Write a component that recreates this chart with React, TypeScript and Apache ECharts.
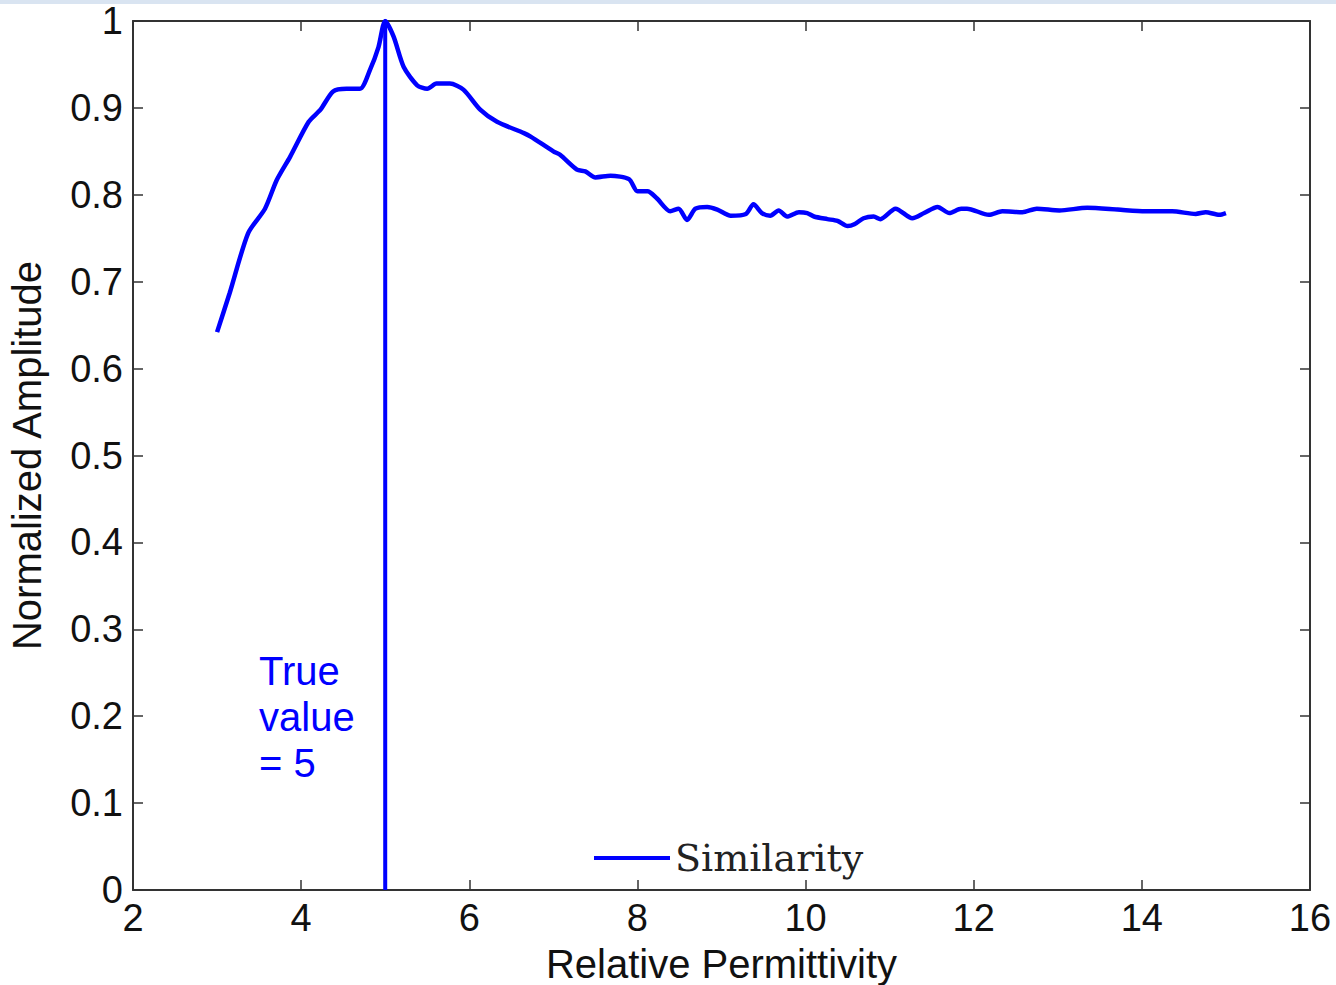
import React, { useEffect, useRef } from "react";
import * as echarts from "echarts";

const permittivity = [
  3.0, 3.15, 3.37, 3.57, 3.71, 3.87, 4.09, 4.23, 4.38, 4.54, 4.7, 4.82, 4.92, 5.0,
  5.1, 5.22, 5.38, 5.5, 5.61, 5.77, 5.93, 6.13, 6.33, 6.65, 6.73, 7.0, 7.08, 7.28,
  7.38, 7.5, 7.68, 7.9, 8.0, 8.12, 8.23, 8.39, 8.49, 8.59, 8.69, 8.83, 8.95, 9.11,
  9.29, 9.38, 9.48, 9.58, 9.68, 9.78, 9.92, 10.02, 10.1, 10.26, 10.38, 10.5, 10.58,
  10.69, 10.81, 10.89, 11.07, 11.27, 11.41, 11.57, 11.71, 11.85, 11.92, 12.18, 12.34,
  12.58, 12.75, 13.02, 13.35, 13.71, 14.04, 14.36, 14.64, 14.76, 14.92, 15.0,
];
const similarity = [
  0.642, 0.687, 0.756, 0.784, 0.817, 0.844, 0.884, 0.898, 0.919, 0.922, 0.922, 0.944, 0.97, 1.0,
  0.982, 0.947, 0.926, 0.922, 0.928, 0.928, 0.921, 0.898, 0.884, 0.871, 0.867, 0.85, 0.846, 0.829,
  0.827, 0.82, 0.822, 0.818, 0.804, 0.804, 0.796, 0.781, 0.784, 0.771, 0.784, 0.786, 0.783, 0.776,
  0.778, 0.789, 0.779, 0.776, 0.782, 0.775, 0.78, 0.779, 0.775, 0.772, 0.77, 0.764, 0.766,
  0.773, 0.775, 0.772, 0.784, 0.773, 0.779, 0.786, 0.779, 0.784, 0.784, 0.777, 0.781,
  0.78, 0.784, 0.782, 0.785, 0.783, 0.781, 0.781, 0.778, 0.78, 0.777, 0.779,
];
const trueValue = 5;
const trueLineY = [0, 1];
const xTicks = { min: 2, max: 16, interval: 2 };
const yTicks = { min: 0, max: 1, interval: 0.1 };
const annotationLines = ["True", "value", "= 5"];

const BLUE = "#0000ff";
const AXIS = "#333333";
const SANS = "'Liberation Sans', Arial, sans-serif";

export default function App() {
  const ref = useRef<HTMLDivElement>(null);
  useEffect(() => {
    if (!ref.current) return;
    const chart = echarts.init(ref.current, null, { renderer: "svg" });
    const axisCommon = {
      axisLine: { show: true, onZero: false, lineStyle: { color: AXIS, width: 2 } },
      axisTick: { show: true, inside: true, length: 10, lineStyle: { color: AXIS, width: 1.5 } },
      splitLine: { show: false },
    };
    chart.setOption({
      animation: false,
      backgroundColor: "#ffffff",
      grid: { left: 133, top: 21, right: 26, bottom: 95, containLabel: false, outerBoundsMode: "none" },
      xAxis: [
        {
          type: "value",
          ...xTicks,
          ...axisCommon,
          position: "bottom",
          name: "Relative Permittivity",
          nameLocation: "middle",
          nameGap: 44,
          nameTextStyle: { fontFamily: SANS, fontSize: 40, color: "#111", lineHeight: 44 },
          axisLabel: { fontFamily: SANS, fontSize: 38, color: "#111", margin: 9 },
        },
        {
          type: "value",
          ...xTicks,
          ...axisCommon,
          position: "top",
          axisLabel: { show: false },
        },
      ],
      yAxis: [
        {
          type: "value",
          ...yTicks,
          ...axisCommon,
          position: "left",
          name: "Normalized Amplitude",
          nameLocation: "middle",
          nameGap: 86,
          nameTextStyle: { fontFamily: SANS, fontSize: 40, color: "#111" },
          axisLabel: {
            fontFamily: SANS,
            fontSize: 38,
            color: "#111",
            margin: 10,
            formatter: (v: number) => (Math.round(v * 10) / 10).toString(),
          },
        },
        {
          type: "value",
          ...yTicks,
          ...axisCommon,
          position: "right",
          axisLabel: { show: false },
        },
      ],
      legend: {
        data: [{ name: "Similarity", icon: "rect" }],
        left: 589,
        top: 834,
        itemWidth: 76,
        itemHeight: 4,
        itemGap: 8,
        textStyle: { fontFamily: "'DejaVu Serif', serif", fontSize: 38, color: "#222" },
      },
      graphic: [
        {
          type: "rect",
          shape: { x: 0, y: 0, width: 1336, height: 4 },
          style: { fill: "#d9e4f1" },
          silent: true,
        },
        {
          type: "text",
          left: 259,
          top: 648,
          style: {
            text: annotationLines.join("\n"),
            fill: BLUE,
            font: `40px ${SANS}`,
            lineHeight: 46,
          },
        },
      ],
      series: [
        {
          name: "Similarity",
          type: "line",
          data: permittivity.map((x, i) => [x, similarity[i]]),
          showSymbol: false,
          symbol: "none",
          smooth: 0.25,
          lineStyle: { color: BLUE, width: 4.5 },
          itemStyle: { color: BLUE },
          z: 3,
        },
        {
          name: "True value",
          type: "line",
          data: trueLineY.map((y) => [trueValue, y]),
          showSymbol: false,
          symbol: "none",
          lineStyle: { color: BLUE, width: 4 },
          itemStyle: { color: BLUE },
          z: 2,
        },
      ],
    });
    return () => chart.dispose();
  }, []);
  return (
    <div
      ref={ref}
      style={{ position: "fixed", left: 0, top: 0, width: 1336, height: 985, background: "#fff" }}
    />
  );
}
